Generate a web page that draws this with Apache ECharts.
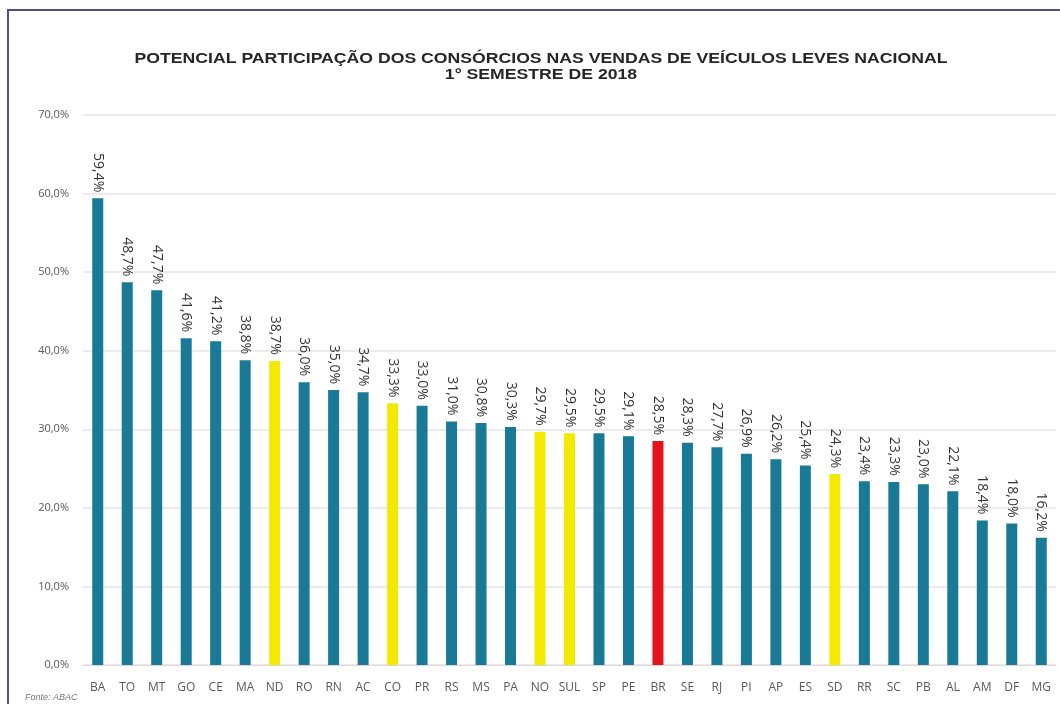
<!DOCTYPE html>
<html>
<head>
<meta charset="utf-8">
<script src="https://cdn.jsdelivr.net/npm/echarts@6/dist/echarts.min.js"></script>
<style>
  html, body { margin: 0; padding: 0; background: #fff; }
  #chart { width: 1060px; height: 704px; }
</style>
</head>
<body>
<div id="chart"></div>
<script>
  // estados / regiões
  const categorias = ["BA", "TO", "MT", "GO", "CE", "MA", "ND", "RO", "RN", "AC", "CO", "PR", "RS", "MS", "PA", "NO", "SUL", "SP", "PE", "BR", "SE", "RJ", "PI", "AP", "ES", "SD", "RR", "SC", "PB", "AL", "AM", "DF", "MG"];
  // participação (%)
  const participacao = [59.4, 48.7, 47.7, 41.6, 41.2, 38.8, 38.7, 36.0, 35.0, 34.7, 33.3, 33.0, 31.0, 30.8, 30.3, 29.7, 29.5, 29.5, 29.1, 28.5, 28.3, 27.7, 26.9, 26.2, 25.4, 24.3, 23.4, 23.3, 23.0, 22.1, 18.4, 18.0, 16.2];
  const regioes = ["ND", "CO", "NO", "SUL", "SD"];
  const nacional = ["BR"];

  const corPadrao = "#187a97";
  const corRegiao = "#f2ea00";
  const corNacional = "#e3131b";

  const fmt = (v) => v.toFixed(1).replace(".", ",") + "%";

  const myChart = echarts.init(document.getElementById("chart"));
  myChart.setOption({
    animation: false,
    // titulo feito como graphic para poder esticar na horizontal
    graphic: [
      {
        type: "rect",
        shape: { x: 8, y: 10, width: 1060, height: 710 },
        style: { fill: "none", stroke: "#4e4e86", lineWidth: 2 },
      },
      {
        type: "text",
        x: 541,
        y: 51,
        scaleX: 1.26,
        style: {
          text: "POTENCIAL PARTICIPAÇÃO DOS CONSÓRCIOS NAS VENDAS DE VEÍCULOS LEVES NACIONAL\n1° SEMESTRE DE 2018",
          font: "bold 14px Liberation Sans, Arial",
          fill: "#262626",
          align: "center",
          lineHeight: 16,
        },
      },
      {
        type: "text",
        left: 25,
        top: 693,
        style: {
          text: "Fonte: ABAC",
          font: "italic 9px Liberation Sans, Arial",
          fill: "#777",
        },
      },
    ],
    grid: {
      left: 83,
      right: 4,
      top: 115,
      bottom: 39,
    },
    xAxis: {
      type: "category",
      data: categorias,
      axisLine: { lineStyle: { color: "#e0d8d8" } },
      axisTick: { show: false },
      axisLabel: {
        interval: 0,
        color: "#595959",
        fontFamily: "Open Sans",
        fontSize: 12,
        margin: 17,
      },
    },
    yAxis: {
      type: "value",
      min: 0,
      max: 70,
      interval: 10,
      axisLine: { show: false },
      axisTick: { show: false },
      splitLine: { lineStyle: { color: "#e4e4e4", width: 1.5 } },
      axisLabel: {
        formatter: (v) => v.toFixed(1).replace(".", ",") + "%",
        color: "#595959",
        fontFamily: "Open Sans",
        fontSize: 11,
        margin: 14,
      },
    },
    series: [
      {
        type: "bar",
        barWidth: 11,
        data: participacao.map((v, i) => ({
          value: v,
          itemStyle: {
            color: nacional.includes(categorias[i]) ? corNacional : regioes.includes(categorias[i]) ? corRegiao : corPadrao,
          },
        })),
        label: {
          show: true,
          position: "top",
          rotate: -90,
          align: "right",
          verticalAlign: "middle",
          distance: 6,
          formatter: (p) => fmt(p.value),
          color: "#333",
          fontFamily: "Open Sans",
          fontSize: 14,
        },
      },
    ],
  });
</script>
</body>
</html>
